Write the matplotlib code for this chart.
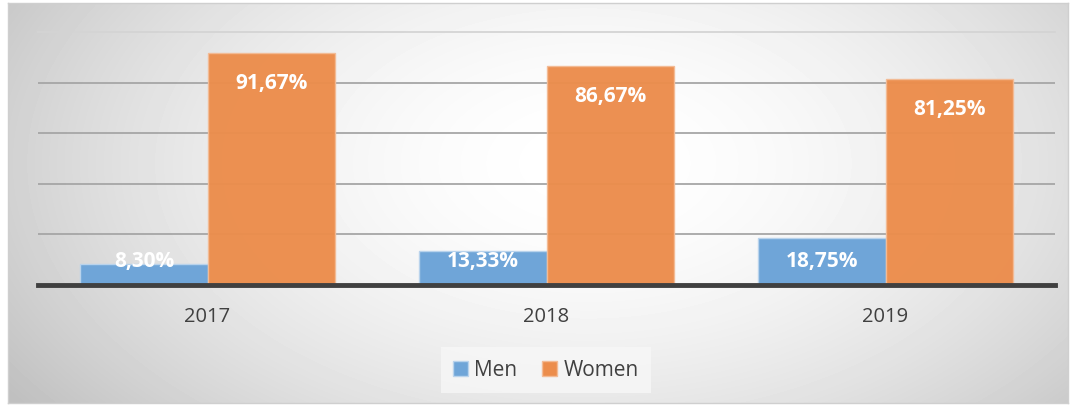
import numpy as np
import matplotlib
matplotlib.use('Agg')
from matplotlib import pyplot as plt
from matplotlib.patches import Patch

years = ['2017', '2018', '2019']
men = [8.30, 13.33, 18.75]
women = [91.67, 86.67, 81.25]
men_labels = ['8,30%', '13,33%', '18,75%']
women_labels = ['91,67%', '86,67%', '81,25%']

plt.rcParams['font.family'] = ['Open Sans', 'DejaVu Sans']

W, H = 1076, 407
fig = plt.figure(figsize=(W / 100, H / 100), dpi=100)
fig.patch.set_facecolor('white')

# radial grey-to-white background of the chart area
bx0, by0, bw, bh = 8, 3, 1060, 400
bg = fig.add_axes([bx0 / W, 1 - (by0 + bh) / H, bw / W, bh / H])
yy, xx = np.mgrid[0:bh, 0:bw]
d = np.sqrt(((xx - 580) / 560.0) ** 2 + ((yy - 160) / 330.0) ** 2)
shade = 1 - 0.25 * np.clip(d, 0, 1.25) ** 1.8 / 1.25 ** 1.8
bg.imshow(shade, cmap='gray', vmin=0, vmax=1, aspect='auto',
          extent=(0, bw, bh, 0), interpolation='bilinear')
bg.set_xticks([]), bg.set_yticks([])
for s in bg.spines.values():
    s.set_color('#cfcfcf')
    s.set_linewidth(1)
bg.set_zorder(0)

ax = fig.add_axes([38 / W, 1 - 285 / H, (1055 - 38) / W, (285 - 32) / H])
ax.set_zorder(1)
ax.patch.set_alpha(0)

x = np.arange(len(years))
w = 0.375
ax.bar(x - w / 2, men, w, color='#6fa5d8', edgecolor='#b9d3ec', linewidth=1.0, zorder=3)
ax.bar(x + w / 2, women, w, color='#ec8d4c', edgecolor='#f3bb95', linewidth=1.0, zorder=3, alpha=0.97)

for i in range(len(years)):
    ax.text(x[i] - w / 2, 9.2, men_labels[i], ha='center', va='center',
            color='white', fontsize=15, fontweight='bold', zorder=5)
    ax.text(x[i] + w / 2, women[i] - 12.0, women_labels[i], ha='center', va='center',
            color='white', fontsize=15, fontweight='bold', zorder=5)

ax.set_xlim(-0.5, 2.5)
ax.set_ylim(0, 100)
ax.set_yticks([20, 40, 60, 80])
ax.yaxis.grid(True, color='#a6a6a6', linewidth=1.3, zorder=1)
ax.axhline(100, color='#d4d4d4', linewidth=1.3, zorder=1, clip_on=False)
ax.tick_params(axis='y', left=False, labelleft=False)
ax.set_xticks(x)
ax.set_xticklabels(years, fontsize=14.5, color='#404040')
ax.tick_params(axis='x', length=0, pad=16)
for s in ['top', 'right', 'left']:
    ax.spines[s].set_visible(False)
ax.spines['bottom'].set_color('#404040')
ax.spines['bottom'].set_linewidth(3.5)
ax.spines['bottom'].set_zorder(4)

handles = [Patch(facecolor='#6fa5d8', edgecolor='#b9d3ec', label='Men'),
           Patch(facecolor='#ec8d4c', edgecolor='#f3bb95', label='Women')]
leg = fig.legend(handles=handles, loc='center', bbox_to_anchor=(546 / W, 1 - 370 / H),
                 ncol=2, frameon=True, fontsize=15, handlelength=0.7, handleheight=0.7,
                 handletextpad=0.3, columnspacing=1.2, borderpad=0.6, fancybox=False)
leg.get_frame().set_facecolor('#f7f7f7')
leg.get_frame().set_edgecolor('none')
for t in leg.get_texts():
    t.set_color('#404040')

fig.savefig('out.png', dpi=100)
